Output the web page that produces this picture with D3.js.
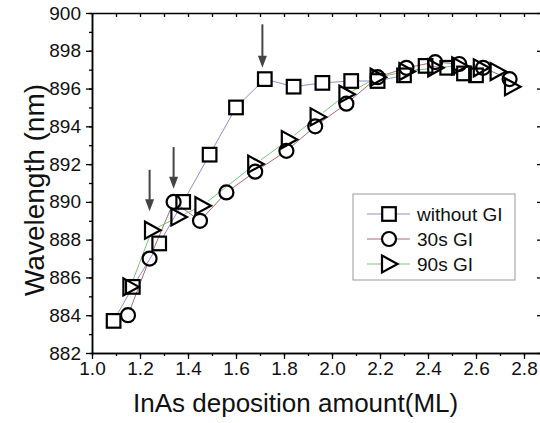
<!DOCTYPE html>
<html>
<head>
<meta charset="utf-8">
<script src="https://cdn.jsdelivr.net/npm/d3@7"></script>
<style>
  body { margin: 0; background: #fff; }
  svg { display: block; }
  text { font-family: "Liberation Sans", Arial, sans-serif; fill: #111; }
</style>
</head>
<body>
<div id="chart"></div>
<script>
// tick values
const xTicks = [1.0, 1.2, 1.4, 1.6, 1.8, 2.0, 2.2, 2.4, 2.6, 2.8];
const yTicks = [882, 884, 886, 888, 890, 892, 894, 896, 898, 900];

const seriesNames = ['without GI', '30s GI', '90s GI'];

// without GI (squares)
const sqX = [1.09, 1.17, 1.28, 1.38, 1.49, 1.60, 1.72, 1.84, 1.96, 2.08, 2.19, 2.30, 2.39, 2.48, 2.55, 2.60];
const sqY = [883.7, 885.5, 887.8, 890.0, 892.5, 895.0, 896.5, 896.1, 896.3, 896.4, 896.4, 896.7, 897.2, 897.1, 896.8, 896.7];

// 30s GI (circles)
const ciX = [1.15, 1.24, 1.34, 1.45, 1.56, 1.68, 1.81, 1.93, 2.06, 2.19, 2.31, 2.43, 2.53, 2.63, 2.74];
const ciY = [884.0, 887.0, 890.0, 889.0, 890.5, 891.6, 892.7, 894.0, 895.2, 896.6, 897.1, 897.4, 897.3, 897.1, 896.5];

// 90s GI (triangles)
const trX = [1.16, 1.25, 1.36, 1.46, 1.68, 1.82, 1.94, 2.06, 2.19, 2.31, 2.43, 2.53, 2.62, 2.69, 2.75];
const trY = [885.5, 888.5, 889.2, 889.8, 892.0, 893.3, 894.5, 895.7, 896.6, 896.9, 897.1, 897.2, 897.1, 896.9, 896.1];

// arrows (x, start value, tip value)
const arrowX = [1.24, 1.34, 1.71];
const arrowFrom = [891.7, 892.9, 899.4];
const arrowTo = [889.5, 890.7, 897.1];

const width = 540, height = 423;
const plotL = 92, plotR = 542, plotT = 13, plotB = 353;

const svg = d3.select('#chart').append('svg')
  .attr('width', width)
  .attr('height', height);

// the picture is cropped on the right, so the axis runs a bit past 2.8
const x = d3.scaleLinear().domain([1.0, 1.0 + (plotR - plotL) / 240]).range([plotL, plotR]);
const y = d3.scaleLinear().domain([882, 900]).range([plotB, plotT]);

const xMinor = d3.range(10, 29).map(d => d / 10);
const yMinor = d3.range(882, 901);

// axes
function styleAxis(g) {
  g.selectAll('.domain').attr('stroke', '#000').attr('stroke-width', 1.5);
  g.selectAll('.tick line').attr('stroke', '#000').attr('stroke-width', 1.3);
  g.selectAll('.tick text').attr('fill', '#111')
    .style('font-family', '"Liberation Sans", Arial, sans-serif')
    .style('font-size', '19px');
}

svg.append('g').attr('transform', `translate(0,${plotB})`)
  .call(d3.axisBottom(x).tickValues(xMinor).tickSize(3).tickSizeOuter(0).tickFormat(''))
  .call(styleAxis);
svg.append('g').attr('transform', `translate(0,${plotB})`)
  .call(d3.axisBottom(x).tickValues(xTicks).tickSize(6).tickSizeOuter(0).tickPadding(3).tickFormat(d3.format('.1f')))
  .call(styleAxis);

svg.append('g').attr('transform', `translate(0,${plotT})`)
  .call(d3.axisTop(x).tickValues(xMinor).tickSize(-4).tickSizeOuter(0).tickFormat(''))
  .call(styleAxis);

svg.append('g').attr('transform', `translate(${plotL},0)`)
  .call(d3.axisLeft(y).tickValues(yMinor).tickSize(3).tickSizeOuter(0).tickFormat(''))
  .call(styleAxis);
svg.append('g').attr('transform', `translate(${plotL},0)`)
  .call(d3.axisLeft(y).tickValues(yTicks).tickSize(6).tickSizeOuter(0).tickPadding(5).tickFormat(d3.format('d')))
  .call(styleAxis);

svg.append('g').attr('transform', `translate(${plotR},0)`)
  .call(d3.axisRight(y).tickValues(yTicks).tickSize(-5).tickSizeOuter(0).tickFormat(''))
  .call(styleAxis);

// axis titles
svg.append('text')
  .attr('x', 133).attr('y', 412)
  .style('font-size', '26px')
  .text('InAs deposition amount(ML)');

svg.append('text')
  .attr('transform', 'translate(44,190) rotate(-90)')
  .attr('text-anchor', 'middle')
  .style('font-size', '28px')
  .text('Wavelength (nm)');

// markers
const symbols = {
  square: g => g.append('rect').attr('x', -6.8).attr('y', -6.8).attr('width', 13.6).attr('height', 13.6),
  circle: g => g.append('circle').attr('r', 7),
  triangle: g => g.append('path').attr('d', 'M-7,-8.5L-7,8.5L8.5,0Z')
};

const series = [
  { name: seriesNames[0], xs: sqX, ys: sqY, color: '#8f8fc4', symbol: 'square' },
  { name: seriesNames[1], xs: ciX, ys: ciY, color: '#a86d6d', symbol: 'circle' },
  { name: seriesNames[2], xs: trX, ys: trY, color: '#7cc27c', symbol: 'triangle' }
];

const gap = 7;
series.forEach(s => {
  const pts = s.xs.map((v, i) => [x(v), y(s.ys[i])]);
  const lineG = svg.append('g');
  for (let i = 0; i < pts.length - 1; i++) {
    const [x0, y0] = pts[i], [x1, y1] = pts[i + 1];
    const len = Math.hypot(x1 - x0, y1 - y0);
    if (len <= 2 * gap) continue;
    const ux = (x1 - x0) / len, uy = (y1 - y0) / len;
    lineG.append('line')
      .attr('x1', x0 + ux * gap).attr('y1', y0 + uy * gap)
      .attr('x2', x1 - ux * gap).attr('y2', y1 - uy * gap)
      .attr('stroke', s.color).attr('stroke-width', 1);
  }
});

series.forEach(s => {
  s.xs.forEach((v, i) => {
    const g = svg.append('g').attr('transform', `translate(${x(v)},${y(s.ys[i])})`);
    symbols[s.symbol](g).attr('fill', 'none').attr('stroke', '#000').attr('stroke-width', 2.2);
  });
});

// arrows
arrowX.forEach((v, i) => {
  const ax = x(v), y0 = y(arrowFrom[i]), y1 = y(arrowTo[i]);
  svg.append('line')
    .attr('x1', ax).attr('x2', ax).attr('y1', y0).attr('y2', y1 - 10)
    .attr('stroke', '#444').attr('stroke-width', 2);
  svg.append('path')
    .attr('d', `M${ax - 4.5},${y1 - 12}L${ax + 4.5},${y1 - 12}L${ax},${y1}Z`)
    .attr('fill', '#444');
});

// legend
const legend = svg.append('g').attr('transform', 'translate(353,194)');
legend.append('rect')
  .attr('width', 162).attr('height', 86)
  .attr('fill', '#fff').attr('stroke', '#999').attr('stroke-width', 1);

series.forEach((s, i) => {
  const ly = 20 + i * 25;
  const row = legend.append('g').attr('transform', `translate(0,${ly})`);
  row.append('line').attr('x1', 14).attr('x2', 29).attr('y1', 0).attr('y2', 0)
    .attr('stroke', s.color).attr('stroke-width', 1);
  row.append('line').attr('x1', 43).attr('x2', 57).attr('y1', 0).attr('y2', 0)
    .attr('stroke', s.color).attr('stroke-width', 1);
  const g = row.append('g').attr('transform', 'translate(36,0)');
  symbols[s.symbol](g).attr('fill', 'none').attr('stroke', '#000').attr('stroke-width', 2.2);
  row.append('text')
    .attr('x', 64).attr('y', 7)
    .style('font-size', '19px')
    .text(s.name);
});
</script>
</body>
</html>
